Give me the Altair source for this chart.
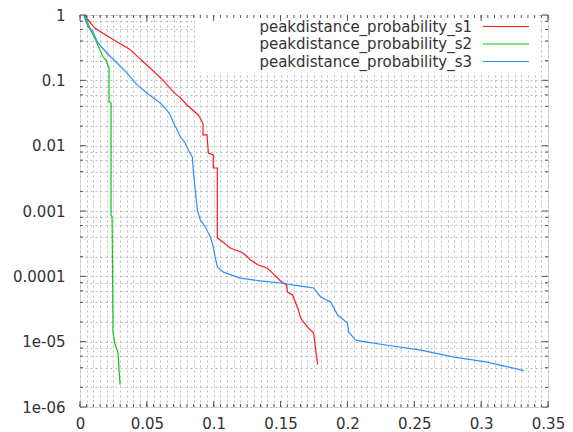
import altair as alt
import pandas as pd

# ---------------- data ----------------
series_names = ["peakdistance_probability_s1", "peakdistance_probability_s2", "peakdistance_probability_s3"]
series_colors = ["#ff1a1a", "#14c414", "#2a90ff"]

s1_x = [0.003, 0.011, 0.0217, 0.037, 0.050, 0.062, 0.070, 0.075, 0.080, 0.0885, 0.092, 0.092,
        0.095, 0.096, 0.0997, 0.0997, 0.1027, 0.1027, 0.105, 0.1124, 0.122, 0.1274, 0.1334,
        0.140, 0.144, 0.150, 0.1544, 0.1552, 0.159, 0.161, 0.1634, 0.165, 0.170, 0.1747, 0.176, 0.1777]
s1_y = [1.0, 0.63, 0.46, 0.30, 0.172, 0.101, 0.066, 0.054, 0.042, 0.0295, 0.022, 0.0146,
        0.0146, 0.0077, 0.0072, 0.00455, 0.00455, 0.000386, 0.00036, 0.000271, 0.000228, 0.000178, 0.000149,
        0.000134, 0.000112, 0.000085, 0.000074, 0.0000575, 0.0000518, 0.0000405, 0.0000305, 0.000023,
        0.0000168, 0.0000136, 0.0000083, 0.0000045]

s2_x = [0.0037, 0.0075, 0.011, 0.015, 0.0172, 0.0195, 0.021, 0.0217, 0.0217, 0.0232, 0.0232,
        0.024, 0.0247, 0.026, 0.0285, 0.0292, 0.030]
s2_y = [1.0, 0.61, 0.445, 0.29, 0.228, 0.205, 0.166, 0.16, 0.0466, 0.045, 0.00087,
        0.00081, 0.0000136, 0.0000095, 0.0000067, 0.0000037, 0.0000022]

s3_x = [0.003, 0.006, 0.009, 0.0135, 0.020, 0.0277, 0.035, 0.0427, 0.050, 0.060, 0.065, 0.0675,
        0.070, 0.0727, 0.075, 0.0787, 0.081, 0.084, 0.0847, 0.0862, 0.0877, 0.090, 0.0937, 0.0975,
        0.0997, 0.101, 0.1027, 0.1072, 0.120, 0.135, 0.150, 0.165, 0.1747, 0.180, 0.1874, 0.1927,
        0.200, 0.2009, 0.206, 0.210, 0.2286, 0.255, 0.2796, 0.3036, 0.332]
s3_y = [0.965, 0.655, 0.589, 0.373, 0.262, 0.184, 0.13, 0.085, 0.064, 0.045, 0.035, 0.0295,
        0.022, 0.0174, 0.0136, 0.011, 0.0086, 0.0067, 0.0042, 0.0021, 0.00104, 0.00073, 0.00057, 0.0004,
        0.00028, 0.0002, 0.000139, 0.000116, 0.000094, 0.000085, 0.000079, 0.000071, 0.0000663,
        0.0000483, 0.0000405, 0.0000256, 0.0000193, 0.0000141, 0.0000106, 0.0000102, 0.0000089,
        0.0000074, 0.0000058, 0.0000049, 0.0000036]

# ---------------- axes ----------------
x_major = [0, 0.05, 0.1, 0.15, 0.2, 0.25, 0.3, 0.35]
x_labels = ["0", "0.05", "0.1", "0.15", "0.2", "0.25", "0.3", "0.35"]
x_minor = [round(i * 0.005, 3) for i in range(71)]

y_major = [1, 0.1, 0.01, 0.001, 0.0001, 1e-05, 1e-06]
y_labels = ["1", "0.1", "0.01", "0.001", "0.0001", "1e-05", "1e-06"]
y_minor = [m * 10.0 ** e for e in range(-6, 0) for m in (2, 4, 6, 8)]

W, H = 468, 392
GRID = "#bdbdbd"
BORDER = "#555555"
FONT = "DejaVu Sans"
TEXT = "#333333"


def label_expr(vals, labs, rel):
    expr = "''"
    for v, s in zip(reversed(vals), reversed(labs)):
        tol = f"{v}*1e-6" if (rel and v != 0) else "1e-9"
        expr = f"(abs(datum.value - {v}) <= {tol} ? '{s}' : {expr})"
    return expr


rows = []
for name, xs, ys in zip(series_names, [s1_x, s2_x, s3_x], [s1_y, s2_y, s3_y]):
    for i, (a, b) in enumerate(zip(xs, ys)):
        rows.append({"x": a, "y": b, "series": name, "i": i})
df = pd.DataFrame(rows)

xscale = alt.Scale(domain=[0, 0.35], nice=False, zero=False)
yscale = alt.Scale(type="log", domain=[1e-6, 1], nice=False)

common = dict(grid=True, gridDash=[2, 3], gridColor=GRID, gridWidth=1,
              ticks=False, tickSize=0, domain=False, title=None,
              labelFlush=False, labelOverlap=False,
              labelFont=FONT, labelFontSize=15, labelColor=TEXT)
xaxis = alt.Axis(values=x_minor, labelPadding=9,
                 labelExpr=label_expr(x_major, x_labels, False), **common)
yaxis = alt.Axis(values=y_major + y_minor, labelPadding=15,
                 labelExpr=label_expr(y_major, y_labels, True), **common)


def X(field="x"):
    return alt.X(f"{field}:Q", scale=xscale, axis=xaxis)


def Y(field="y"):
    return alt.Y(f"{field}:Q", scale=yscale, axis=yaxis)


lines = alt.Chart(df).mark_line(strokeWidth=1.2, interpolate="linear").encode(
    x=X(), y=Y(),
    color=alt.Color("series:N", scale=alt.Scale(domain=series_names, range=series_colors), legend=None),
    order="i:Q",
    detail="series:N",
)

# key background (opaque, like gnuplot's key)
key_bg = alt.Chart(pd.DataFrame({"a": [0]})).mark_rect(fill="white").encode(
    x=alt.value(115), x2=alt.value(458), y=alt.value(0), y2=alt.value(57)
)

key_layers = []
row_y = [11.5, 29, 46.5]
for name, col, ry in zip(series_names, series_colors, row_y):
    kd = pd.DataFrame({"label": [name]})
    key_layers.append(
        alt.Chart(kd).mark_text(align="right", baseline="middle", font=FONT, fontSize=15,
                                color=TEXT).encode(
            text="label:N", x=alt.value(392), y=alt.value(ry))
    )
    key_layers.append(
        alt.Chart(kd).mark_rule(color=col, strokeWidth=1.2).encode(
            x=alt.value(403), x2=alt.value(449), y=alt.value(ry))
    )


# inward ticks on all four sides
def xticks(vals, ln):
    d = pd.DataFrame({"x": vals})
    bot = alt.Chart(d).mark_rule(color=BORDER, strokeWidth=1).encode(
        x=X(), y=alt.value(H), y2=alt.value(H - ln))
    top = alt.Chart(d).mark_rule(color=BORDER, strokeWidth=1).encode(
        x=X(), y=alt.value(0), y2=alt.value(ln))
    return [bot, top]


def yticks(vals, ln):
    d = pd.DataFrame({"y": vals})
    left = alt.Chart(d).mark_rule(color=BORDER, strokeWidth=1).encode(
        y=Y(), x=alt.value(0), x2=alt.value(ln))
    right = alt.Chart(d).mark_rule(color=BORDER, strokeWidth=1).encode(
        y=Y(), x=alt.value(W), x2=alt.value(W - ln))
    return [left, right]


tick_layers = xticks(x_minor, 3) + xticks(x_major, 6) + yticks(y_minor, 3) + yticks(y_major, 6)

chart = alt.layer(lines, key_bg, *key_layers, *tick_layers).properties(
    width=W, height=H,
    padding={"left": 80, "top": 15, "right": 25, "bottom": 25},
    autosize=alt.AutoSizeParams(type="none"),
).configure_view(stroke=BORDER, strokeWidth=1.2).configure(background="white")

chart.save("out.html", embed_options={"renderer": "svg", "actions": False})
